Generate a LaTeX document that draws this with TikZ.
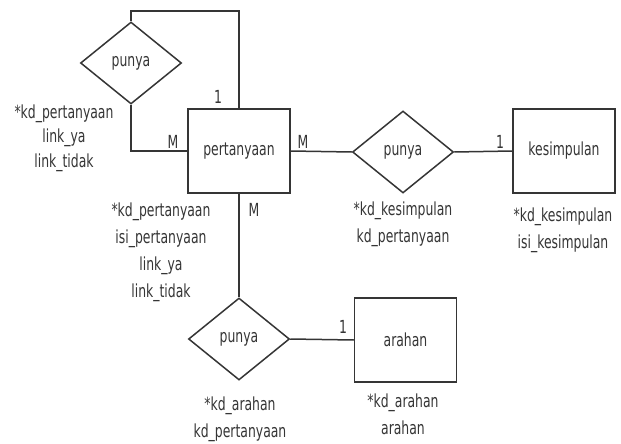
\documentclass[tikz,border=0pt]{standalone}
\usepackage{fontspec}
\setmainfont{DejaVu Sans}[FakeStretch=0.69]
\usetikzlibrary{shapes.geometric}
\definecolor{ink}{HTML}{353535}
\begin{document}
\begin{tikzpicture}[x=1pt,y=-1pt,
  every node/.style={text=ink,font=\fontsize{18}{27}\selectfont},
  ent/.style={draw=ink,line width=1.5pt,rectangle,minimum width=102pt,minimum height=84pt,inner sep=0pt},
  rel/.style={draw=ink,line width=1.5pt,diamond,aspect=1.25,minimum width=101pt,minimum height=82pt,inner sep=0pt},
  conn/.style={draw=ink,line width=1.5pt},
  card/.style={inner sep=0pt},
  attr/.style={align=center,inner sep=0pt}]
\useasboundingbox (0,0) rectangle (621,444);
\fill[white] (0,0) rectangle (621,444);
% entities
\node[ent] (pert) at (239,151) {pertanyaan};
\node[ent] (kes) at (564,151) {kesimpulan};
\node[ent] (arah) at (405.5,340) {arahan};
% relationships
\node[rel] (d1) at (131,63) {punya};
\node[rel] (d2) at (403,152) {punya};
\node[rel] (d3) at (239,339) {punya};
% connectors
\coordinate (top) at (239,11);
\draw[conn] (d1.north) |- (top) -- (pert.north);
\draw[conn] (d1.south) |- (pert.west);
\draw[conn] (pert.east) -- (d2.west);
\draw[conn] (d2.east) -- (kes.west);
\draw[conn] (pert.south) -- (d3.north);
\draw[conn] (d3.east) -- (arah.west);
% cardinalities
\node[card] (c1) at (218,97) {1};
\node[card] (c2) at (173,142) {M};
\node[card] (c3) at (303,142) {M};
\node[card] (c4) at (500,142) {1};
\node[card] (c5) at (254,210) {M};
\node[card] (c6) at (343,327) {1};
% attributes
\node[attr,font=\fontsize{18}{24.5}\selectfont] (a1) at (64,138) {*kd\_pertanyaan\\link\_ya\\link\_tidak};
\node[attr] (a2) at (161,252) {*kd\_pertanyaan\\isi\_pertanyaan\\link\_ya\\link\_tidak};
\node[attr] (a3) at (403,224) {*kd\_kesimpulan\\kd\_pertanyaan};
\node[attr] (a4) at (563,230) {*kd\_kesimpulan\\isi\_kesimpulan};
\node[attr] (a5) at (240,419) {*kd\_arahan\\kd\_pertanyaan};
\node[attr] (a6) at (403,414) {*kd\_arahan\\arahan};
\end{tikzpicture}
\end{document}
